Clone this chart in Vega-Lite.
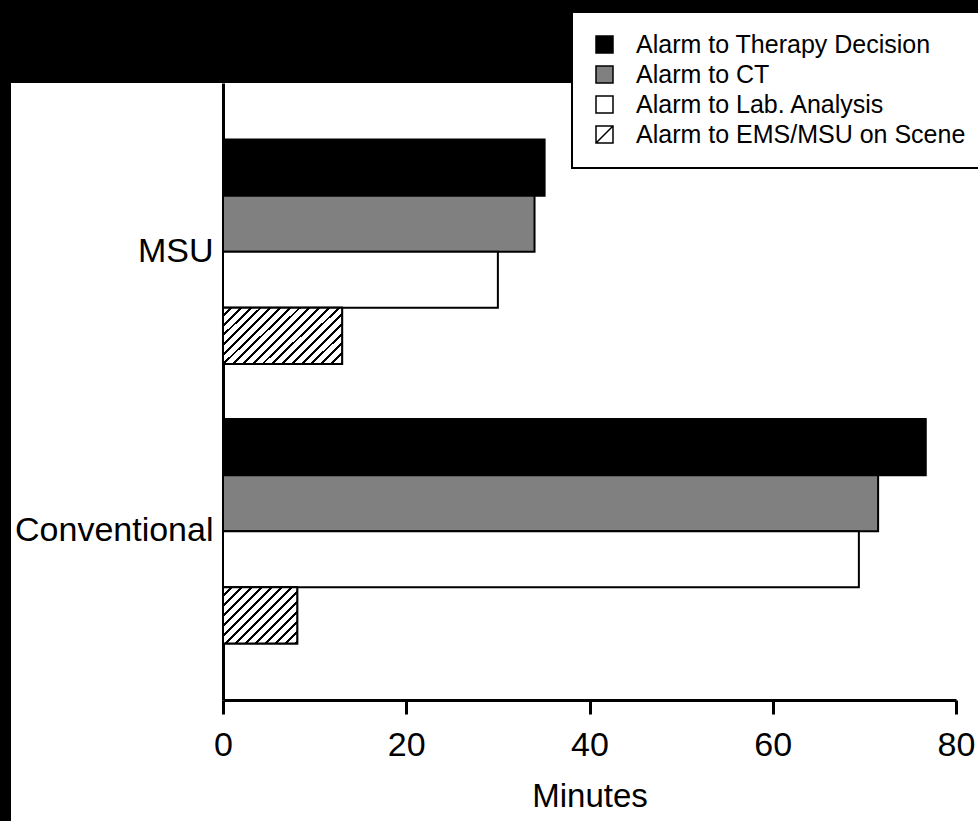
{
  "$schema": "https://vega.github.io/schema/vega-lite/v6.json",
  "width": 967,
  "height": 738,
  "autosize": {"type": "none"},
  "padding": {"left": 11, "top": 83, "right": 0, "bottom": 0},
  "background": "black",
  "config": {"view": {"fill": "white", "stroke": null}, "font": "Liberation Sans"},
  "data": {
    "values": [
      {"group": "MSU", "series": "Alarm to Therapy Decision", "minutes": 35.1},
      {"group": "MSU", "series": "Alarm to CT", "minutes": 34.0},
      {"group": "MSU", "series": "Alarm to Lab. Analysis", "minutes": 30.0},
      {"group": "MSU", "series": "Alarm to EMS/MSU on Scene", "minutes": 13.0},
      {"group": "Conventional", "series": "Alarm to Therapy Decision", "minutes": 76.7},
      {"group": "Conventional", "series": "Alarm to CT", "minutes": 71.5},
      {"group": "Conventional", "series": "Alarm to Lab. Analysis", "minutes": 69.4},
      {"group": "Conventional", "series": "Alarm to EMS/MSU on Scene", "minutes": 8.1}
    ]
  },
  "encoding": {
    "y": {
      "field": "group",
      "type": "nominal",
      "sort": ["MSU", "Conventional"],
      "scale": {"range": [0, 617], "paddingInner": 0.197, "paddingOuter": 0.2023},
      "title": null,
      "axis": {
        "orient": "left",
        "offset": -212,
        "ticks": false,
        "grid": false,
        "labelFont": "Liberation Sans",
        "labelFontSize": 34,
        "labelColor": "black",
        "labelPadding": 10,
        "labelLimit": 0,
        "domainColor": "black",
        "domainWidth": 3
      }
    },
    "yOffset": {
      "field": "series",
      "type": "nominal",
      "sort": ["Alarm to Therapy Decision", "Alarm to CT", "Alarm to Lab. Analysis", "Alarm to EMS/MSU on Scene"],
      "scale": {"domain": ["Alarm to Therapy Decision", "Alarm to CT", "Alarm to Lab. Analysis", "Alarm to EMS/MSU on Scene"], "paddingInner": 0, "paddingOuter": 0}
    },
    "x": {
      "field": "minutes",
      "type": "quantitative",
      "scale": {"domain": [0, 80], "range": [212, 945], "nice": false},
      "axis": {
        "orient": "bottom",
        "offset": -121,
        "values": [0, 20, 40, 60, 80],
        "grid": false,
        "tickSize": 14,
        "tickWidth": 3,
        "tickColor": "black",
        "domainColor": "black",
        "domainWidth": 3,
        "labelFont": "Liberation Sans",
        "labelFontSize": 34,
        "labelColor": "black",
        "labelPadding": 14,
        "labelFlush": false,
        "title": "Minutes",
        "titleFont": "Liberation Sans",
        "titleFontSize": 33,
        "titleFontWeight": "normal",
        "titleColor": "black",
        "titlePadding": 18
      }
    }
  },
  "layer": [
    {
      "mark": {"type": "bar", "stroke": "black", "strokeWidth": 2},
      "encoding": {
        "fill": {
          "field": "series",
          "type": "nominal",
          "scale": {
            "domain": ["Alarm to Therapy Decision", "Alarm to CT", "Alarm to Lab. Analysis", "Alarm to EMS/MSU on Scene"],
            "range": ["black", "#808080", "white", "white"]
          },
          "legend": {
            "orient": "none",
            "legendX": 561,
            "legendY": -71,
            "direction": "vertical",
            "title": null,
            "fillColor": "white",
            "strokeColor": "black",
            "padding": 20,
            "labelFont": "Liberation Sans",
            "labelFontSize": 25,
            "labelColor": "black",
            "labelLimit": 0,
            "labelOffset": 19,
            "symbolType": "square",
            "symbolSize": 289,
            "symbolStrokeColor": "black",
            "symbolStrokeWidth": 1.5,
            "rowPadding": 4,
            "encode": {
              "legend": {"update": {"strokeWidth": {"value": 2}}},
              "symbols": {
                "update": {
                  "shape": [
                    {"test": "datum.value === 'Alarm to EMS/MSU on Scene'", "value": "M-1,-1H1V1H-1ZM-1,1L1,-1"},
                    {"value": "square"}
                  ]
                }
              }
            }
          }
        }
      }
    },
    {
      "transform": [{"filter": "datum.series === 'Alarm to EMS/MSU on Scene'"}],
      "mark": {"type": "bar", "stroke": "black", "strokeWidth": 2},
      "encoding": {
        "fill": {
          "condition": {
            "test": "datum.group === 'MSU'",
            "value": {
              "gradient": "linear", "x1": 0, "y1": 0, "x2": 1.2033, "y2": 0.5733,
              "stops": [
                {"offset": 0, "color": "white"}, {"offset": 0.0389, "color": "white"}, {"offset": 0.0389, "color": "black"}, {"offset": 0.0556, "color": "black"},
                {"offset": 0.0556, "color": "white"}, {"offset": 0.0944, "color": "white"}, {"offset": 0.0944, "color": "black"}, {"offset": 0.1111, "color": "black"},
                {"offset": 0.1111, "color": "white"}, {"offset": 0.15, "color": "white"}, {"offset": 0.15, "color": "black"}, {"offset": 0.1667, "color": "black"},
                {"offset": 0.1667, "color": "white"}, {"offset": 0.2056, "color": "white"}, {"offset": 0.2056, "color": "black"}, {"offset": 0.2222, "color": "black"},
                {"offset": 0.2222, "color": "white"}, {"offset": 0.2611, "color": "white"}, {"offset": 0.2611, "color": "black"}, {"offset": 0.2778, "color": "black"},
                {"offset": 0.2778, "color": "white"}, {"offset": 0.3167, "color": "white"}, {"offset": 0.3167, "color": "black"}, {"offset": 0.3333, "color": "black"},
                {"offset": 0.3333, "color": "white"}, {"offset": 0.3722, "color": "white"}, {"offset": 0.3722, "color": "black"}, {"offset": 0.3889, "color": "black"},
                {"offset": 0.3889, "color": "white"}, {"offset": 0.4278, "color": "white"}, {"offset": 0.4278, "color": "black"}, {"offset": 0.4444, "color": "black"},
                {"offset": 0.4444, "color": "white"}, {"offset": 0.4833, "color": "white"}, {"offset": 0.4833, "color": "black"}, {"offset": 0.5, "color": "black"},
                {"offset": 0.5, "color": "white"}, {"offset": 0.5389, "color": "white"}, {"offset": 0.5389, "color": "black"}, {"offset": 0.5556, "color": "black"},
                {"offset": 0.5556, "color": "white"}, {"offset": 0.5944, "color": "white"}, {"offset": 0.5944, "color": "black"}, {"offset": 0.6111, "color": "black"},
                {"offset": 0.6111, "color": "white"}, {"offset": 0.65, "color": "white"}, {"offset": 0.65, "color": "black"}, {"offset": 0.6667, "color": "black"},
                {"offset": 0.6667, "color": "white"}, {"offset": 0.7056, "color": "white"}, {"offset": 0.7056, "color": "black"}, {"offset": 0.7222, "color": "black"},
                {"offset": 0.7222, "color": "white"}, {"offset": 0.7611, "color": "white"}, {"offset": 0.7611, "color": "black"}, {"offset": 0.7778, "color": "black"},
                {"offset": 0.7778, "color": "white"}, {"offset": 0.8167, "color": "white"}, {"offset": 0.8167, "color": "black"}, {"offset": 0.8333, "color": "black"},
                {"offset": 0.8333, "color": "white"}, {"offset": 0.8722, "color": "white"}, {"offset": 0.8722, "color": "black"}, {"offset": 0.8889, "color": "black"},
                {"offset": 0.8889, "color": "white"}, {"offset": 0.9278, "color": "white"}, {"offset": 0.9278, "color": "black"}, {"offset": 0.9444, "color": "black"},
                {"offset": 0.9444, "color": "white"}, {"offset": 0.9833, "color": "white"}, {"offset": 0.9833, "color": "black"}, {"offset": 1, "color": "black"}
              ]
            }
          },
          "value": {
            "gradient": "linear", "x1": 0, "y1": 0, "x2": 1.1136, "y2": 0.852,
            "stops": [
              {"offset": 0, "color": "white"}, {"offset": 0.0538, "color": "white"}, {"offset": 0.0538, "color": "black"}, {"offset": 0.0769, "color": "black"},
              {"offset": 0.0769, "color": "white"}, {"offset": 0.1308, "color": "white"}, {"offset": 0.1308, "color": "black"}, {"offset": 0.1538, "color": "black"},
              {"offset": 0.1538, "color": "white"}, {"offset": 0.2077, "color": "white"}, {"offset": 0.2077, "color": "black"}, {"offset": 0.2308, "color": "black"},
              {"offset": 0.2308, "color": "white"}, {"offset": 0.2846, "color": "white"}, {"offset": 0.2846, "color": "black"}, {"offset": 0.3077, "color": "black"},
              {"offset": 0.3077, "color": "white"}, {"offset": 0.3615, "color": "white"}, {"offset": 0.3615, "color": "black"}, {"offset": 0.3846, "color": "black"},
              {"offset": 0.3846, "color": "white"}, {"offset": 0.4385, "color": "white"}, {"offset": 0.4385, "color": "black"}, {"offset": 0.4615, "color": "black"},
              {"offset": 0.4615, "color": "white"}, {"offset": 0.5154, "color": "white"}, {"offset": 0.5154, "color": "black"}, {"offset": 0.5385, "color": "black"},
              {"offset": 0.5385, "color": "white"}, {"offset": 0.5923, "color": "white"}, {"offset": 0.5923, "color": "black"}, {"offset": 0.6154, "color": "black"},
              {"offset": 0.6154, "color": "white"}, {"offset": 0.6692, "color": "white"}, {"offset": 0.6692, "color": "black"}, {"offset": 0.6923, "color": "black"},
              {"offset": 0.6923, "color": "white"}, {"offset": 0.7462, "color": "white"}, {"offset": 0.7462, "color": "black"}, {"offset": 0.7692, "color": "black"},
              {"offset": 0.7692, "color": "white"}, {"offset": 0.8231, "color": "white"}, {"offset": 0.8231, "color": "black"}, {"offset": 0.8462, "color": "black"},
              {"offset": 0.8462, "color": "white"}, {"offset": 0.9, "color": "white"}, {"offset": 0.9, "color": "black"}, {"offset": 0.9231, "color": "black"},
              {"offset": 0.9231, "color": "white"}, {"offset": 0.9769, "color": "white"}, {"offset": 0.9769, "color": "black"}, {"offset": 1, "color": "black"}
            ]
          }
        }
      }
    }
  ]
}
